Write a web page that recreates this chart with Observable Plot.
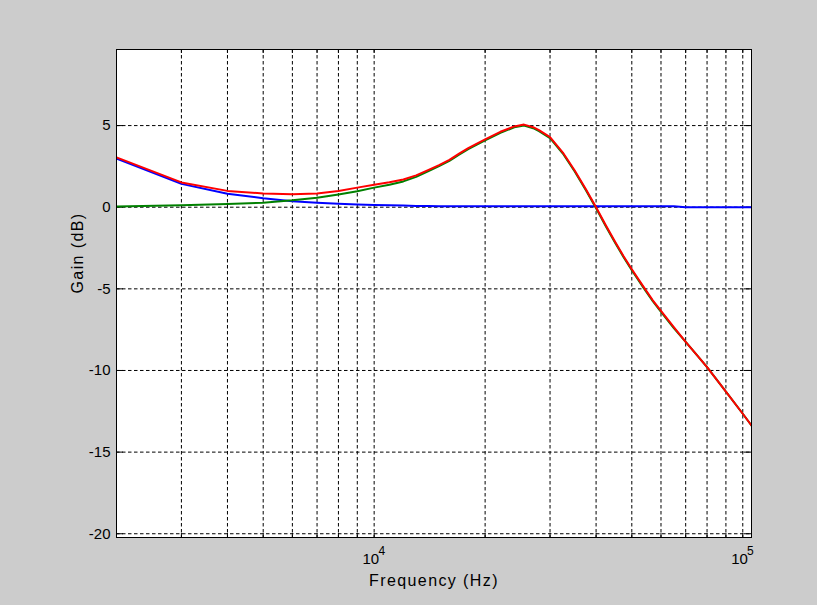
<!DOCTYPE html>
<html><head><meta charset="utf-8">
<script src="https://cdn.jsdelivr.net/npm/d3@7"></script>
<script src="https://cdn.jsdelivr.net/npm/@observablehq/plot@0.6"></script>
<style>
html,body{margin:0;padding:0;background:#cccccc;overflow:hidden;}
#chart{width:817px;height:605px;}
</style></head><body><div id="chart"></div>
<script>
// ---- data ----
const freq = [2000,3000,4000,5000,6000,7000,8000,9000,10000,11000,12000,13000,14000,15000,16000,17000,18000,19000,20000,22000,24000,25500,27000,28000,30000,32500,35000,37500,40000,42500,45000,47500,50000,53700,57000,60000,65000,70000,75000,80000,90000,100000,105600];
const blueGain = [2.98,1.43,0.82,0.55,0.37,0.27,0.21,0.17,0.14,0.12,0.10,0.08,0.07,0.06,0.06,0.06,0.06,0.06,0.06,0.06,0.06,0.06,0.06,0.06,0.06,0.06,0.06,0.06,0.06,0.06,0.06,0.06,0.06,0.06,0.06,0.06,0.06,0.0,0.0,0.0,0.0,0.0,0.0];
const greenGain = [0.05,0.12,0.20,0.28,0.42,0.58,0.78,0.98,1.20,1.38,1.58,1.86,2.20,2.52,2.84,3.22,3.56,3.84,4.09,4.56,4.89,5.00,4.84,4.66,4.23,3.29,2.19,1.06,-0.06,-1.16,-2.16,-3.06,-3.86,-4.91,-5.76,-6.41,-7.41,-8.25,-9.05,-9.80,-11.30,-12.65,-13.37];
const redGain = [3.05,1.52,1.00,0.84,0.80,0.84,0.99,1.20,1.38,1.53,1.70,1.95,2.27,2.58,2.90,3.28,3.62,3.90,4.15,4.62,4.95,5.06,4.90,4.72,4.29,3.35,2.25,1.12,0.00,-1.10,-2.10,-3.00,-3.80,-4.85,-5.70,-6.35,-7.35,-8.25,-9.05,-9.80,-11.30,-12.65,-13.37];

const xGrid = [3000,4000,5000,6000,7000,8000,9000,10000,20000,30000,40000,50000,60000,70000,80000,90000,100000];
const xTickMarks = [2000,3000,4000,5000,6000,7000,8000,9000,10000,20000,30000,40000,50000,60000,70000,80000,90000,100000];
const xMajorTicks = [10000, 100000];
const xBase = "10";
const xExponents = ["4", "5"];
const yTicks = [-20,-15,-10,-5,0,5];
const xDomain = [2000, 105600];
const yDomain = [-20.23, 9.66];
const xLabel = "Frequency (Hz)";
const yLabel = "Gain (dB)";

// ---- layout ----
const W = 817, H = 605, mL = 116, mR = 66, mT = 49, mB = 68;
const innerW = W - mL - mR, innerH = H - mT - mB;
const dash = "3.5,2.5";
const font = "'Liberation Sans', Arial, Helvetica, sans-serif";

const rows = vals => freq.map((f, i) => ({f, g: vals[i]}));

const chart = Plot.plot({
  width: W, height: H,
  marginLeft: mL, marginRight: mR, marginTop: mT, marginBottom: mB,
  style: {background: "#cccccc", fontFamily: font, fontSize: "15px", color: "black"},
  x: {type: "log", domain: xDomain, axis: null},
  y: {domain: yDomain, axis: null},
  marks: [
    Plot.frame({fill: "white", stroke: null}),
    Plot.ruleX(xGrid, {x: d => d, stroke: "black", strokeWidth: 1, strokeDasharray: dash}),
    Plot.ruleY(yTicks, {y: d => d, stroke: "black", strokeWidth: 1, strokeDasharray: dash}),
    // inward tick marks
    Plot.ruleX(xTickMarks, {x: d => d, stroke: "black", insetTop: innerH - 4}),
    Plot.ruleX(xTickMarks, {x: d => d, stroke: "black", insetBottom: innerH - 4}),
    Plot.ruleY(yTicks, {y: d => d, stroke: "black", insetRight: innerW - 7}),
    Plot.ruleY(yTicks, {y: d => d, stroke: "black", insetLeft: innerW - 7}),
    // curves
    Plot.line(rows(blueGain), {x: "f", y: "g", stroke: "#0000ff", strokeWidth: 2, clip: true}),
    Plot.line(rows(greenGain), {x: "f", y: "g", stroke: "#008000", strokeWidth: 2, clip: true}),
    Plot.line(rows(redGain), {x: "f", y: "g", stroke: "#ff0000", strokeWidth: 2, clip: true}),
    Plot.frame({stroke: "black", strokeWidth: 1}),
    // tick labels
    Plot.text(yTicks, {y: d => d, text: d => String(d), frameAnchor: "left", textAnchor: "end", dx: -6, fontSize: 15, fill: "black"}),
    Plot.text(xMajorTicks, {x: d => d, text: () => xBase, frameAnchor: "bottom", lineAnchor: "bottom", dy: 26, dx: -3.3, fontSize: 15, fill: "black"}),
    Plot.text(xMajorTicks, {x: d => d, text: (d, i) => xExponents[i], frameAnchor: "bottom", lineAnchor: "bottom", dy: 17, dx: 7.6, fontSize: 12, fill: "black"}),
    // axis labels
    Plot.text([xLabel], {text: d => d, frameAnchor: "bottom", lineAnchor: "bottom", dy: 48, fontSize: 16, fill: "black"}),
    Plot.text([yLabel], {text: d => d, frameAnchor: "left", lineAnchor: "bottom", rotate: -90, dx: -33.5, fontSize: 16, fill: "black"})
  ]
});

d3.select(chart).selectAll("text")
  .filter(function() { return this.textContent === xLabel || this.textContent === yLabel; })
  .style("letter-spacing", "1.4px");

document.getElementById("chart").appendChild(chart);
</script>
</body></html>
